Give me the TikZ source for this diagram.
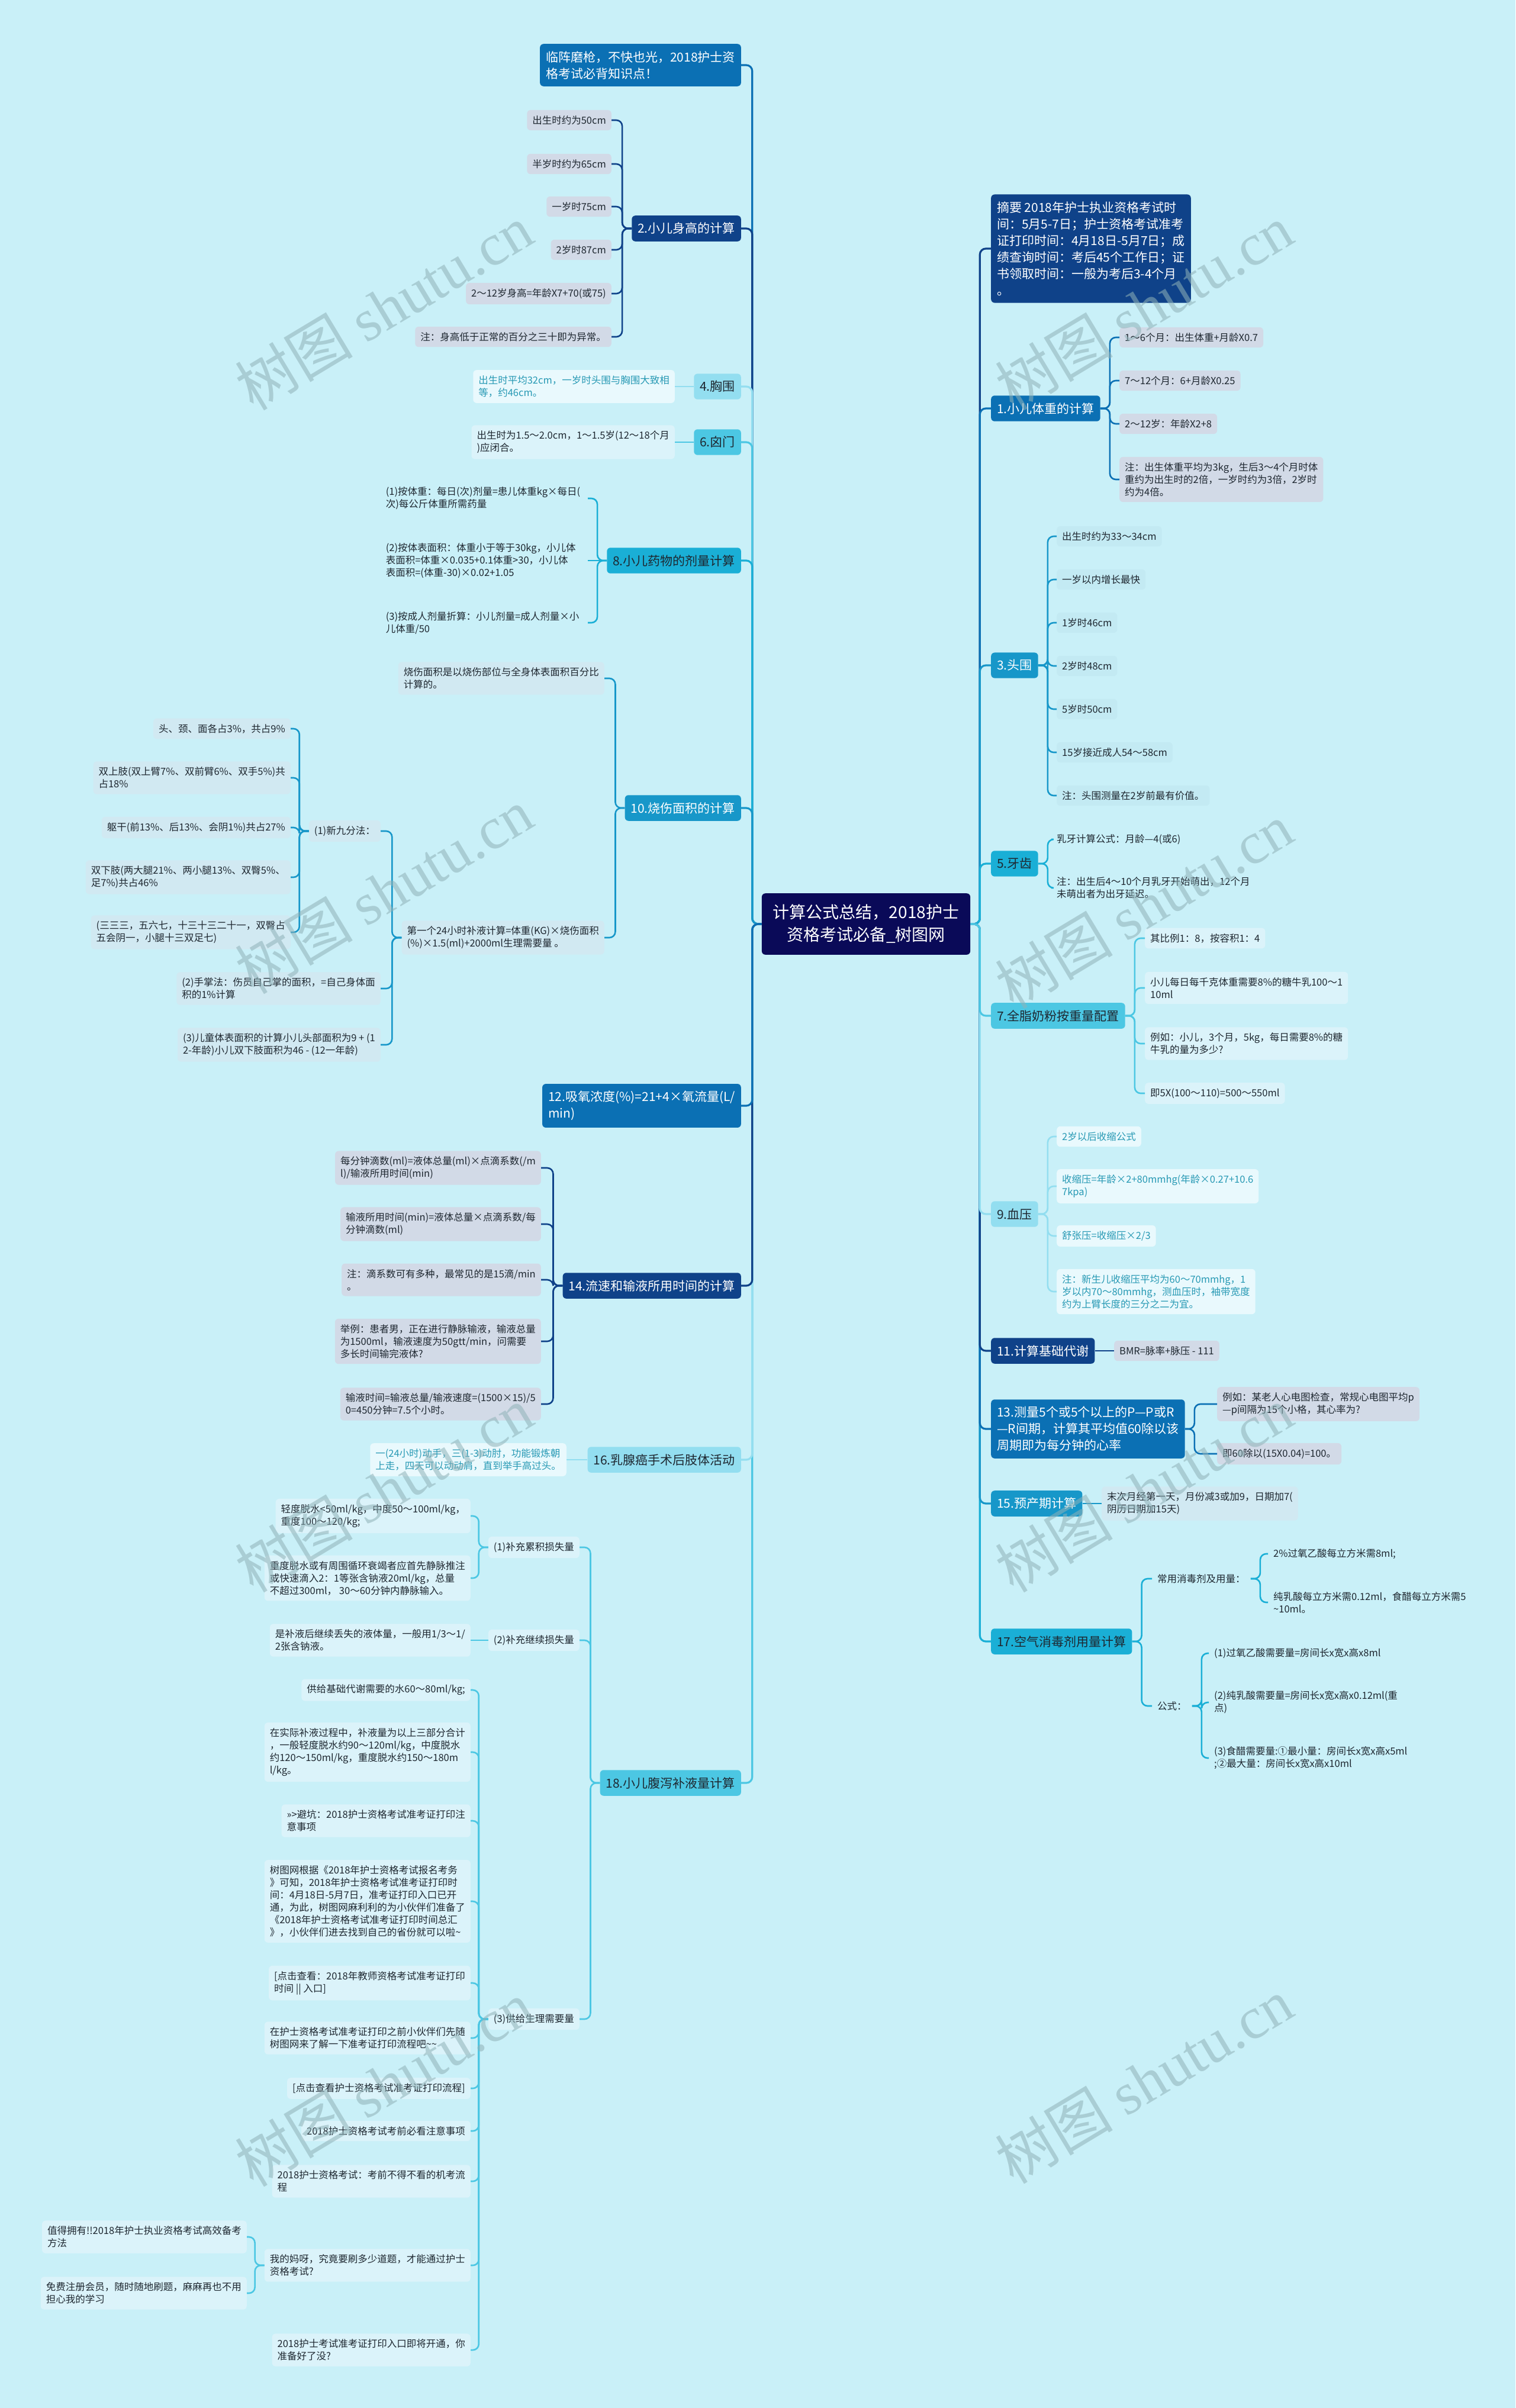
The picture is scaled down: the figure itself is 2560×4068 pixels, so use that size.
\documentclass[tikz,border=0pt]{standalone}
\usepackage{fontspec}
\setmainfont{Noto Sans CJK SC}
\newfontfamily\wmserif{Liberation Serif}
\usetikzlibrary{positioning}
\definecolor{bgC}{HTML}{C9F0F8}
\definecolor{rootC}{HTML}{0A0A58}
\definecolor{deepB}{HTML}{0F4289}
\definecolor{midB}{HTML}{0B70B4}
\definecolor{seaB}{HTML}{1797C9}
\definecolor{cyanB}{HTML}{1AAFD6}
\definecolor{aquaB}{HTML}{4CC7E3}
\definecolor{paleB}{HTML}{93DEF0}
\definecolor{greyF}{HTML}{D2DAE7}
\definecolor{mistF}{HTML}{D1E9F2}
\definecolor{veilF}{HTML}{C3EAF3}
\definecolor{foamF}{HTML}{DBF3FA}
\definecolor{snowF}{HTML}{E9F9FD}
\definecolor{tealT}{HTML}{2799B4}
\definecolor{inkC}{HTML}{1E2730}
\definecolor{wmC}{HTML}{8FB2B8}
\tikzset{
  topic/.style={rounded corners=6pt,inner xsep=10pt,inner ysep=12pt,align=left,
    font=\fontsize{21}{28}\selectfont},
  leaf/.style={rounded corners=6pt,inner xsep=9pt,inner ysep=9.5pt,align=left,
    text=inkC,font=\fontsize{16.5}{21}\selectfont},
  link/.style={line width=2.6pt,rounded corners=10pt},
  rootlink/.style={line width=3.2pt,rounded corners=10pt},
  watermark/.style={rotate=31,text=wmC,opacity=.55,font=\fontsize{100}{100}\selectfont}
}
\newcommand{\linkL}[3]{\draw[link,#1] (#2.west) -- ++(-16,0) |- (#3.east);}
\newcommand{\linkR}[3]{\draw[link,#1] (#2.east) -- ++(16,0) |- (#3.west);}
\newcommand{\linkLs}[3]{\draw[link,#1] (#2.west) -- (#3.east);}
\newcommand{\linkRs}[3]{\draw[link,#1] (#2.east) -- (#3.west);}

\begin{document}
\begin{tikzpicture}[x=1pt,y=-1pt]
\fill[bgC] (0,0) rectangle (2560,4068);
\useasboundingbox (0,0) rectangle (2560,4068);

\node[topic,fill=rootC,text=white,align=center,inner xsep=19pt,inner ysep=19pt,
  font=\fontsize{28}{38}\selectfont] (root) at (1463,1561) {计算公式总结，2018护士\\资格考试必备\_树图网};

% left half
\node[topic,fill=midB,text=white,anchor=east] (tip) at (1252,110) {临阵磨枪，不快也光，2018护士资\\格考试必背知识点！};
\node[topic,fill=deepB,text=white,anchor=east] (hgt) at (1252,386) {2.小儿身高的计算};
\node[topic,fill=paleB,text=inkC,anchor=east] (chest) at (1252,653) {4.胸围};
\node[topic,fill=aquaB,text=inkC,anchor=east] (fon) at (1252,747) {6.囟门};
\node[topic,fill=cyanB,text=inkC,anchor=east] (drug) at (1252,947) {8.小儿药物的剂量计算};
\node[topic,fill=seaB,text=white,anchor=east] (burn) at (1252,1365) {10.烧伤面积的计算};
\node[topic,fill=midB,text=white,anchor=east] (oxy) at (1252,1868) {12.吸氧浓度(\%)=21+4×氧流量(L/\\min)};
\node[topic,fill=deepB,text=white,anchor=east] (drip) at (1252,2172) {14.流速和输液所用时间的计算};
\node[topic,fill=paleB,text=inkC,anchor=east] (arm) at (1252,2466) {16.乳腺癌手术后肢体活动};
\node[topic,fill=aquaB,text=inkC,anchor=east] (fluid) at (1252,3012) {18.小儿腹泻补液量计算};

\foreach \n/\c in {tip/midB,hgt/deepB,chest/paleB,fon/aquaB,drug/cyanB,burn/seaB,fluid/aquaB,arm/paleB,drip/deepB,oxy/midB}
  \draw[rootlink,\c] (root.west) -- ++(-16,0) |- (\n.east);

\foreach \k/\yy/\txt in {1/203/{出生时约为50cm},2/277/{半岁时约为65cm},3/349/{一岁时75cm},4/422/{2岁时87cm},5/496/{2～12岁身高=年龄X7+70(或75)},6/569/{注：身高低于正常的百分之三十即为异常。}}
  {\node[leaf,fill=greyF,anchor=east] (hgt\k) at (1033,\yy) {\txt}; \linkL{deepB}{hgt}{hgt\k}}

\node[leaf,fill=snowF,text=tealT,anchor=east] (chest1) at (1140,653) {出生时平均32cm，一岁时头围与胸围大致相\\等，约46cm。};
\linkLs{paleB}{chest}{chest1}
\node[leaf,fill=foamF,anchor=east] (fon1) at (1140,747) {出生时为1.5～2.0cm，1～1.5岁(12～18个月\\)应闭合。};
\linkLs{aquaB}{fon}{fon1}

\node[leaf,anchor=east,text width=332pt] (drug1) at (993,842) {(1)按体重：每日(次)剂量=患儿体重kg×每日(\\次)每公斤体重所需药量};
\node[leaf,anchor=east,text width=332pt] (drug2) at (993,947) {(2)按体表面积：体重小于等于30kg，小儿体\\表面积=体重×0.035+0.1体重>30，小儿体\\表面积=(体重-30)×0.02+1.05};
\node[leaf,anchor=east,text width=332pt] (drug3) at (993,1052) {(3)按成人剂量折算：小儿剂量=成人剂量×小\\儿体重/50};
\linkL{cyanB}{drug}{drug1} \linkLs{cyanB}{drug}{drug2} \linkL{cyanB}{drug}{drug3}

\node[leaf,fill=mistF,anchor=east] (burnA) at (1021,1146) {烧伤面积是以烧伤部位与全身体表面积百分比\\计算的。};
\node[leaf,fill=mistF,anchor=east] (burnB) at (1021,1584) {第一个24小时补液计算=体重(KG)×烧伤面积\\(\%)×1.5(ml)+2000ml生理需要量 。};
\linkL{seaB}{burn}{burnA} \linkL{seaB}{burn}{burnB}
\node[leaf,fill=mistF,anchor=east] (nine) at (643,1404) {(1)新九分法：};
\node[leaf,fill=mistF,anchor=east] (palm) at (643,1670) {(2)手掌法：伤员自己掌的面积，=自己身体面\\积的1\%计算};
\node[leaf,fill=mistF,anchor=east] (kid) at (643,1765) {(3)儿童体表面积的计算小儿头部面积为9 + (1\\2-年龄)小儿双下肢面积为46 - (12一年龄)};
\linkL{seaB}{burnB}{nine} \linkL{seaB}{burnB}{palm} \linkL{seaB}{burnB}{kid}
\foreach \k/\yy/\txt in {1/1231/{头、颈、面各占3\%，共占9\%},2/1314/{双上肢(双上臂7\%、双前臂6\%、双手5\%)共\\占18\%},3/1398/{躯干(前13\%、后13\%、会阴1\%)共占27\%},4/1482/{双下肢(两大腿21\%、两小腿13\%、双臀5\%、\\足7\%)共占46\%},5/1575/{(三三三，五六七，十三十三二十一，双臀占\\五会阴一，小腿十三双足七)}}
  {\node[leaf,fill=mistF,anchor=east] (nine\k) at (491,\yy) {\txt}; \linkL{seaB}{nine}{nine\k}}

\node[leaf,fill=greyF,anchor=east] (drip1) at (914,1973) {每分钟滴数(ml)=液体总量(ml)×点滴系数(/m\\l)/输液所用时间(min)};
\node[leaf,fill=greyF,anchor=east] (drip2) at (914,2068) {输液所用时间(min)=液体总量×点滴系数/每\\分钟滴数(ml)};
\node[leaf,fill=greyF,anchor=east] (drip3) at (914,2162) {注：滴系数可有多种，最常见的是15滴/min\\。};
\node[leaf,fill=greyF,anchor=east] (drip4) at (914,2266) {举例：患者男，正在进行静脉输液，输液总量\\为1500ml，输液速度为50gtt/min，问需要\\多长时间输完液体?};
\node[leaf,fill=greyF,anchor=east] (drip5) at (914,2372) {输液时间=输液总量/输液速度=(1500×15)/5\\0=450分钟=7.5个小时。};
\linkL{deepB}{drip}{drip1} \linkL{deepB}{drip}{drip2} \linkL{deepB}{drip}{drip3}
\linkL{deepB}{drip}{drip4} \linkL{deepB}{drip}{drip5}

\node[leaf,fill=snowF,text=tealT,anchor=east] (arm1) at (957,2466) {一(24小时)动手，三(1-3)动肘，功能锻炼朝\\上走，四天可以动动肩，直到举手高过头。};
\linkLs{paleB}{arm}{arm1}

\node[leaf,fill=foamF,anchor=east] (lossA) at (979,2614) {(1)补充累积损失量};
\node[leaf,fill=foamF,anchor=east] (lossB) at (979,2771) {(2)补充继续损失量};
\node[leaf,fill=foamF,anchor=east] (need) at (979,3411) {(3)供给生理需要量};
\linkL{aquaB}{fluid}{lossA} \linkL{aquaB}{fluid}{lossB} \linkL{aquaB}{fluid}{need}
\node[leaf,fill=foamF,anchor=east] (lossA1) at (795,2561) {轻度脱水<50ml/kg，中度50～100ml/kg，\\重度100～120/kg;};
\node[leaf,fill=foamF,anchor=east] (lossA2) at (795,2666) {重度脱水或有周围循环衰竭者应首先静脉推注\\或快速滴入2：1等张含钠液20ml/kg，总量\\不超过300ml， 30～60分钟内静脉输入。};
\node[leaf,fill=foamF,anchor=east] (lossB1) at (795,2771) {是补液后继续丢失的液体量，一般用1/3～1/\\2张含钠液。};
\linkL{aquaB}{lossA}{lossA1} \linkL{aquaB}{lossA}{lossA2} \linkLs{aquaB}{lossB}{lossB1}
\node[leaf,fill=foamF,anchor=east] (need1) at (795,2855) {供给基础代谢需要的水60～80ml/kg;};
\node[leaf,fill=foamF,anchor=east] (need2) at (795,2960) {在实际补液过程中，补液量为以上三部分合计\\，一般轻度脱水约90～120ml/kg，中度脱水\\约120～150ml/kg，重度脱水约150～180m\\l/kg。};
\node[leaf,fill=foamF,anchor=east] (need3) at (795,3076) {>>>避坑：2018护士资格考试准考证打印注\\意事项};
\node[leaf,fill=foamF,anchor=east] (need4) at (795,3212) {树图网根据《2018年护士资格考试报名考务\\》可知，2018年护士资格考试准考证打印时\\间：4月18日-5月7日，准考证打印入口已开\\通，为此，树图网麻利利的为小伙伴们准备了\\《2018年护士资格考试准考证打印时间总汇\\》，小伙伴们进去找到自己的省份就可以啦\textasciitilde};
\node[leaf,fill=foamF,anchor=east] (need5) at (795,3350) {[点击查看：2018年教师资格考试准考证打印\\时间 || 入口]};
\node[leaf,fill=foamF,anchor=east] (need6) at (795,3443) {在护士资格考试准考证打印之前小伙伴们先随\\树图网来了解一下准考证打印流程吧\textasciitilde\textasciitilde};
\node[leaf,fill=foamF,anchor=east] (need7) at (795,3528) {[点击查看护士资格考试准考证打印流程]};
\node[leaf,fill=foamF,anchor=east] (need8) at (795,3600) {2018护士资格考试考前必看注意事项};
\node[leaf,fill=foamF,anchor=east] (need9) at (795,3685) {2018护士资格考试：考前不得不看的机考流\\程};
\node[leaf,fill=foamF,anchor=east] (need10) at (795,3827) {我的妈呀，究竟要刷多少道题，才能通过护士\\资格考试?};
\node[leaf,fill=foamF,anchor=east] (need11) at (795,3970) {2018护士考试准考证打印入口即将开通，你\\准备好了没?};
\foreach \k in {1,...,11} {\linkL{aquaB}{need}{need\k}}
\node[leaf,fill=foamF,anchor=east] (quiz1) at (417,3779) {值得拥有!!2018年护士执业资格考试高效备考\\方法};
\node[leaf,fill=foamF,anchor=east] (quiz2) at (417,3874) {免费注册会员，随时随地刷题，麻麻再也不用\\担心我的学习};
\linkL{aquaB}{need10}{quiz1} \linkL{aquaB}{need10}{quiz2}

% right half
\node[topic,fill=deepB,text=white,anchor=west] (sum) at (1674,420) {摘要 2018年护士执业资格考试时\\间：5月5-7日；护士资格考试准考\\证打印时间：4月18日-5月7日；成\\绩查询时间：考后45个工作日；证\\书领取时间：一般为考后3-4个月\\。};
\node[topic,fill=midB,text=white,anchor=west] (wt) at (1674,690) {1.小儿体重的计算};
\node[topic,fill=seaB,text=white,anchor=west] (head) at (1674,1124) {3.头围};
\node[topic,fill=cyanB,text=inkC,anchor=west] (tooth) at (1674,1459) {5.牙齿};
\node[topic,fill=aquaB,text=inkC,anchor=west] (milk) at (1674,1716) {7.全脂奶粉按重量配置};
\node[topic,fill=paleB,text=inkC,anchor=west] (bp) at (1674,2051) {9.血压};
\node[topic,fill=deepB,text=white,anchor=west] (bmr) at (1674,2282) {11.计算基础代谢};
\node[topic,fill=midB,text=white,anchor=west] (ecg) at (1674,2414) {13.测量5个或5个以上的P—P或R\\—R间期，计算其平均值60除以该\\周期即为每分钟的心率};
\node[topic,fill=seaB,text=white,anchor=west] (due) at (1674,2540) {15.预产期计算};
\node[topic,fill=cyanB,text=inkC,anchor=west] (air) at (1674,2773) {17.空气消毒剂用量计算};

\foreach \n/\c in {sum/deepB,wt/midB,head/seaB,tooth/cyanB,air/cyanB,due/seaB,ecg/midB,bmr/deepB,bp/paleB,milk/aquaB}
  \draw[rootlink,\c] (root.east) -- ++(16,0) |- (\n.west);

\node[leaf,fill=greyF,anchor=west] (wt1) at (1891,570) {1～6个月：出生体重+月龄X0.7};
\node[leaf,fill=greyF,anchor=west] (wt2) at (1891,643) {7～12个月：6+月龄X0.25};
\node[leaf,fill=greyF,anchor=west] (wt3) at (1891,716) {2～12岁：年龄X2+8};
\node[leaf,fill=greyF,anchor=west] (wt4) at (1891,810) {注：出生体重平均为3kg，生后3～4个月时体\\重约为出生时的2倍，一岁时约为3倍，2岁时\\约为4倍。};
\foreach \k in {1,...,4} {\linkR{midB}{wt}{wt\k}}

\foreach \k/\yy/\txt in {1/906/{出生时约为33～34cm},2/979/{一岁以内增长最快},3/1052/{1岁时46cm},4/1125/{2岁时48cm},5/1198/{5岁时50cm},6/1271/{15岁接近成人54～58cm},7/1344/{注：头围测量在2岁前最有价值。}}
  {\node[leaf,fill=veilF,anchor=west] (head\k) at (1785,\yy) {\txt}; \linkR{seaB}{head}{head\k}}

\node[leaf,anchor=west] (tooth1) at (1776,1418) {乳牙计算公式：月龄—4(或6)};
\node[leaf,anchor=west] (tooth2) at (1776,1500) {注：出生后4～10个月乳牙开始萌出，12个月\\未萌出者为出牙延迟。};
\linkR{cyanB}{tooth}{tooth1} \linkR{cyanB}{tooth}{tooth2}

\node[leaf,fill=foamF,anchor=west] (milk1) at (1934,1585) {其比例1：8，按容积1：4};
\node[leaf,fill=foamF,anchor=west] (milk2) at (1934,1669) {小儿每日每千克体重需要8\%的糖牛乳100～1\\10ml};
\node[leaf,fill=foamF,anchor=west] (milk3) at (1934,1763) {例如：小儿，3个月，5kg，每日需要8\%的糖\\牛乳的量为多少?};
\node[leaf,fill=foamF,anchor=west] (milk4) at (1934,1847) {即5X(100～110)=500～550ml};
\foreach \k in {1,...,4} {\linkR{aquaB}{milk}{milk\k}}

\node[leaf,fill=snowF,text=tealT,anchor=west] (bp1) at (1785,1920) {2岁以后收缩公式};
\node[leaf,fill=snowF,text=tealT,anchor=west] (bp2) at (1785,2004) {收缩压=年龄×2+80mmhg(年龄×0.27+10.6\\7kpa)};
\node[leaf,fill=snowF,text=tealT,anchor=west] (bp3) at (1785,2088) {舒张压=收缩压×2/3};
\node[leaf,fill=snowF,text=tealT,anchor=west] (bp4) at (1785,2182) {注：新生儿收缩压平均为60～70mmhg，1\\岁以内70～80mmhg，测血压时，袖带宽度\\约为上臂长度的三分之二为宜。};
\foreach \k in {1,...,4} {\linkR{paleB}{bp}{bp\k}}

\node[leaf,fill=greyF,anchor=west] (bmr1) at (1882,2282) {BMR=脉率+脉压 - 111};
\linkRs{deepB}{bmr}{bmr1}

\node[leaf,fill=greyF,anchor=west] (ecg1) at (2056,2372) {例如：某老人心电图检查，常规心电图平均p\\—p间隔为15个小格，其心率为?};
\node[leaf,fill=greyF,anchor=west] (ecg2) at (2056,2456) {即60除以(15X0.04)=100。};
\linkR{midB}{ecg}{ecg1} \linkR{midB}{ecg}{ecg2}

\node[leaf,fill=mistF,anchor=west] (due1) at (1861,2540) {末次月经第一天，月份减3或加9，日期加7(\\阴历日期加15天)};
\linkRs{seaB}{due}{due1}

\node[leaf,anchor=west] (agent) at (1946,2667) {常用消毒剂及用量：};
\node[leaf,anchor=west] (calc) at (1946,2882) {公式：};
\linkR{cyanB}{air}{agent} \linkR{cyanB}{air}{calc}
\node[leaf,anchor=west] (agent1) at (2142,2625) {2\%过氧乙酸每立方米需8ml;};
\node[leaf,anchor=west] (agent2) at (2142,2707) {纯乳酸每立方米需0.12ml，食醋每立方米需5\\\textasciitilde 10ml。};
\linkR{cyanB}{agent}{agent1} \linkR{cyanB}{agent}{agent2}
\node[leaf,anchor=west] (calc1) at (2042,2793) {(1)过氧乙酸需要量=房间长x宽x高x8ml};
\node[leaf,anchor=west] (calc2) at (2042,2876) {(2)纯乳酸需要量=房间长x宽x高x0.12ml(重\\点)};
\node[leaf,anchor=west] (calc3) at (2042,2970) {(3)食醋需要量:①最小量：房间长x宽x高x5ml\\;②最大量：房间长x宽x高x10ml};
\linkR{cyanB}{calc}{calc1} \linkR{cyanB}{calc}{calc2} \linkR{cyanB}{calc}{calc3}

\foreach \wx/\wy [count=\w] in {648/519,1932/519,648/1505,1932/1530,648/2516,1932/2516,648/3520,1932/3515}
  \node[watermark] (wm\w) at (\wx,\wy) {树图 {\wmserif shutu.cn}};
\end{tikzpicture}
\end{document}
